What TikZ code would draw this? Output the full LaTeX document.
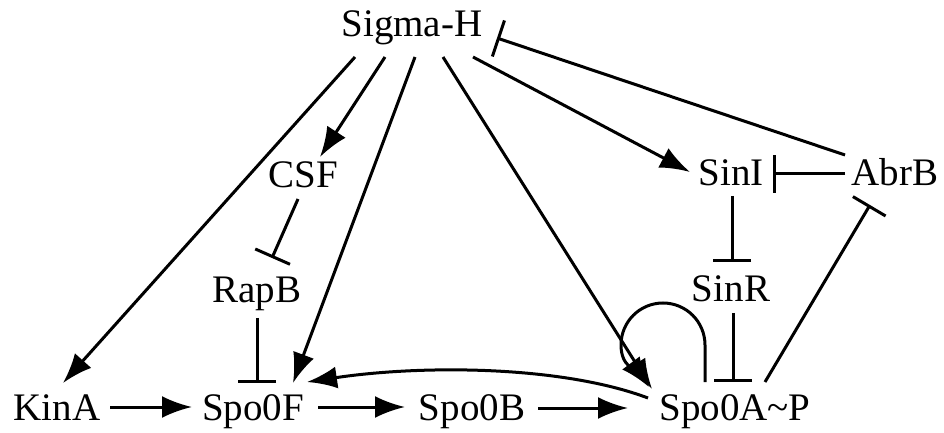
\documentclass[tikz,border=0pt]{standalone}
\usepackage{fontspec}
\setmainfont{Liberation Serif}
\usepackage{tikz}
\usetikzlibrary{arrows.meta,calc,positioning}

\begin{document}
\begin{tikzpicture}[x=0.5pt,y=-0.5pt,line width=1.5pt,
    every node/.style={font=\fontsize{19.5}{23}\selectfont,inner sep=2pt,anchor=base}]
  \tikzset{act/.style={-{Latex[length=15pt,width=11pt]}},
           inh/.style={-{Bar[width=19pt,line width=1.5pt]}}}
  \useasboundingbox (0,0) rectangle (944,433);
  \node (sig)  at (412,37)  {Sigma-H};
  \node (csf)  at (303,188) {CSF};
  \node (rapb) at (257,303) {RapB};
  \node (sini) at (731,186) {SinI};
  \node (abrb) at (895,186) {AbrB};
  \node (sinr) at (731,301) {SinR};
  \node (kina) at (57,421)  {KinA};
  \node (spof) at (253,421) {Spo0F};
  \node (spob) at (472,421) {Spo0B};
  \node (spoa) at (735,421) {Spo0A\textasciitilde P};
  % Sigma-H targets
  \draw[act] ($(sig.base)+(-57,20)$) -- ($(kina.base)+(6,-38)$);
  \draw[act] ($(sig.base)+(-27,20)$) -- ($(csf.base)+(17,-31)$);
  \draw[act] ($(sig.base)+(3,20)$)   -- ($(spof.base)+(40,-38)$);
  \draw[act] ($(sig.base)+(31,20)$)  -- ($(spoa.base)+(-83,-32)$);
  \draw[act] ($(sig.base)+(61,20)$)  -- ($(sini.base)+(-41,-14)$);
  % repression
  \draw[inh] ($(abrb.base)+(-50,-31)$) -- ($(sig.base)+(85,1)$);
  \draw[inh] ($(abrb.base)+(-50,-12)$) -- ($(sini.base)+(42,-12)$);
  \draw[inh] ($(sini.base)+(1,10)$)    -- ($(sinr.base)+(1,-39)$);
  \draw[inh] ($(sinr.base)+(2,12)$)    -- ($(spoa.base)+(-2,-39)$);
  \draw[inh] ($(spoa.base)+(30,-39)$)  -- ($(abrb.base)+(-25,19)$);
  \draw[inh] ($(csf.base)+(-5,11)$)    -- ($(rapb.base)+(15,-45)$);
  \draw[inh] ($(rapb.base)+(0,15)$)    -- ($(spof.base)+(4,-38)$);
  % phosphorelay
  \draw[act] ($(kina.base)+(53,-14)$) -- ($(spof.base)+(-61,-14)$);
  \draw[act] ($(spof.base)+(65,-14)$) -- ($(spob.base)+(-67,-14)$);
  \draw[act] ($(spob.base)+(66,-13)$) -- ($(spoa.base)+(-107,-13)$);
  \draw[act] ($(spoa.base)+(-87,-23)$) .. controls +(-88,-33) and +(113,-17) .. ($(spof.base)+(54,-39)$);
  % autoregulation
  \draw[act] ($(spoa.base)+(-30,-39)$) -- +(0,-37) arc[start angle=0,end angle=-180,radius=42]
    .. controls +(0,22) and +(-12,-16) .. ($(spoa.base)+(-86,-34)$);
\end{tikzpicture}
\end{document}
